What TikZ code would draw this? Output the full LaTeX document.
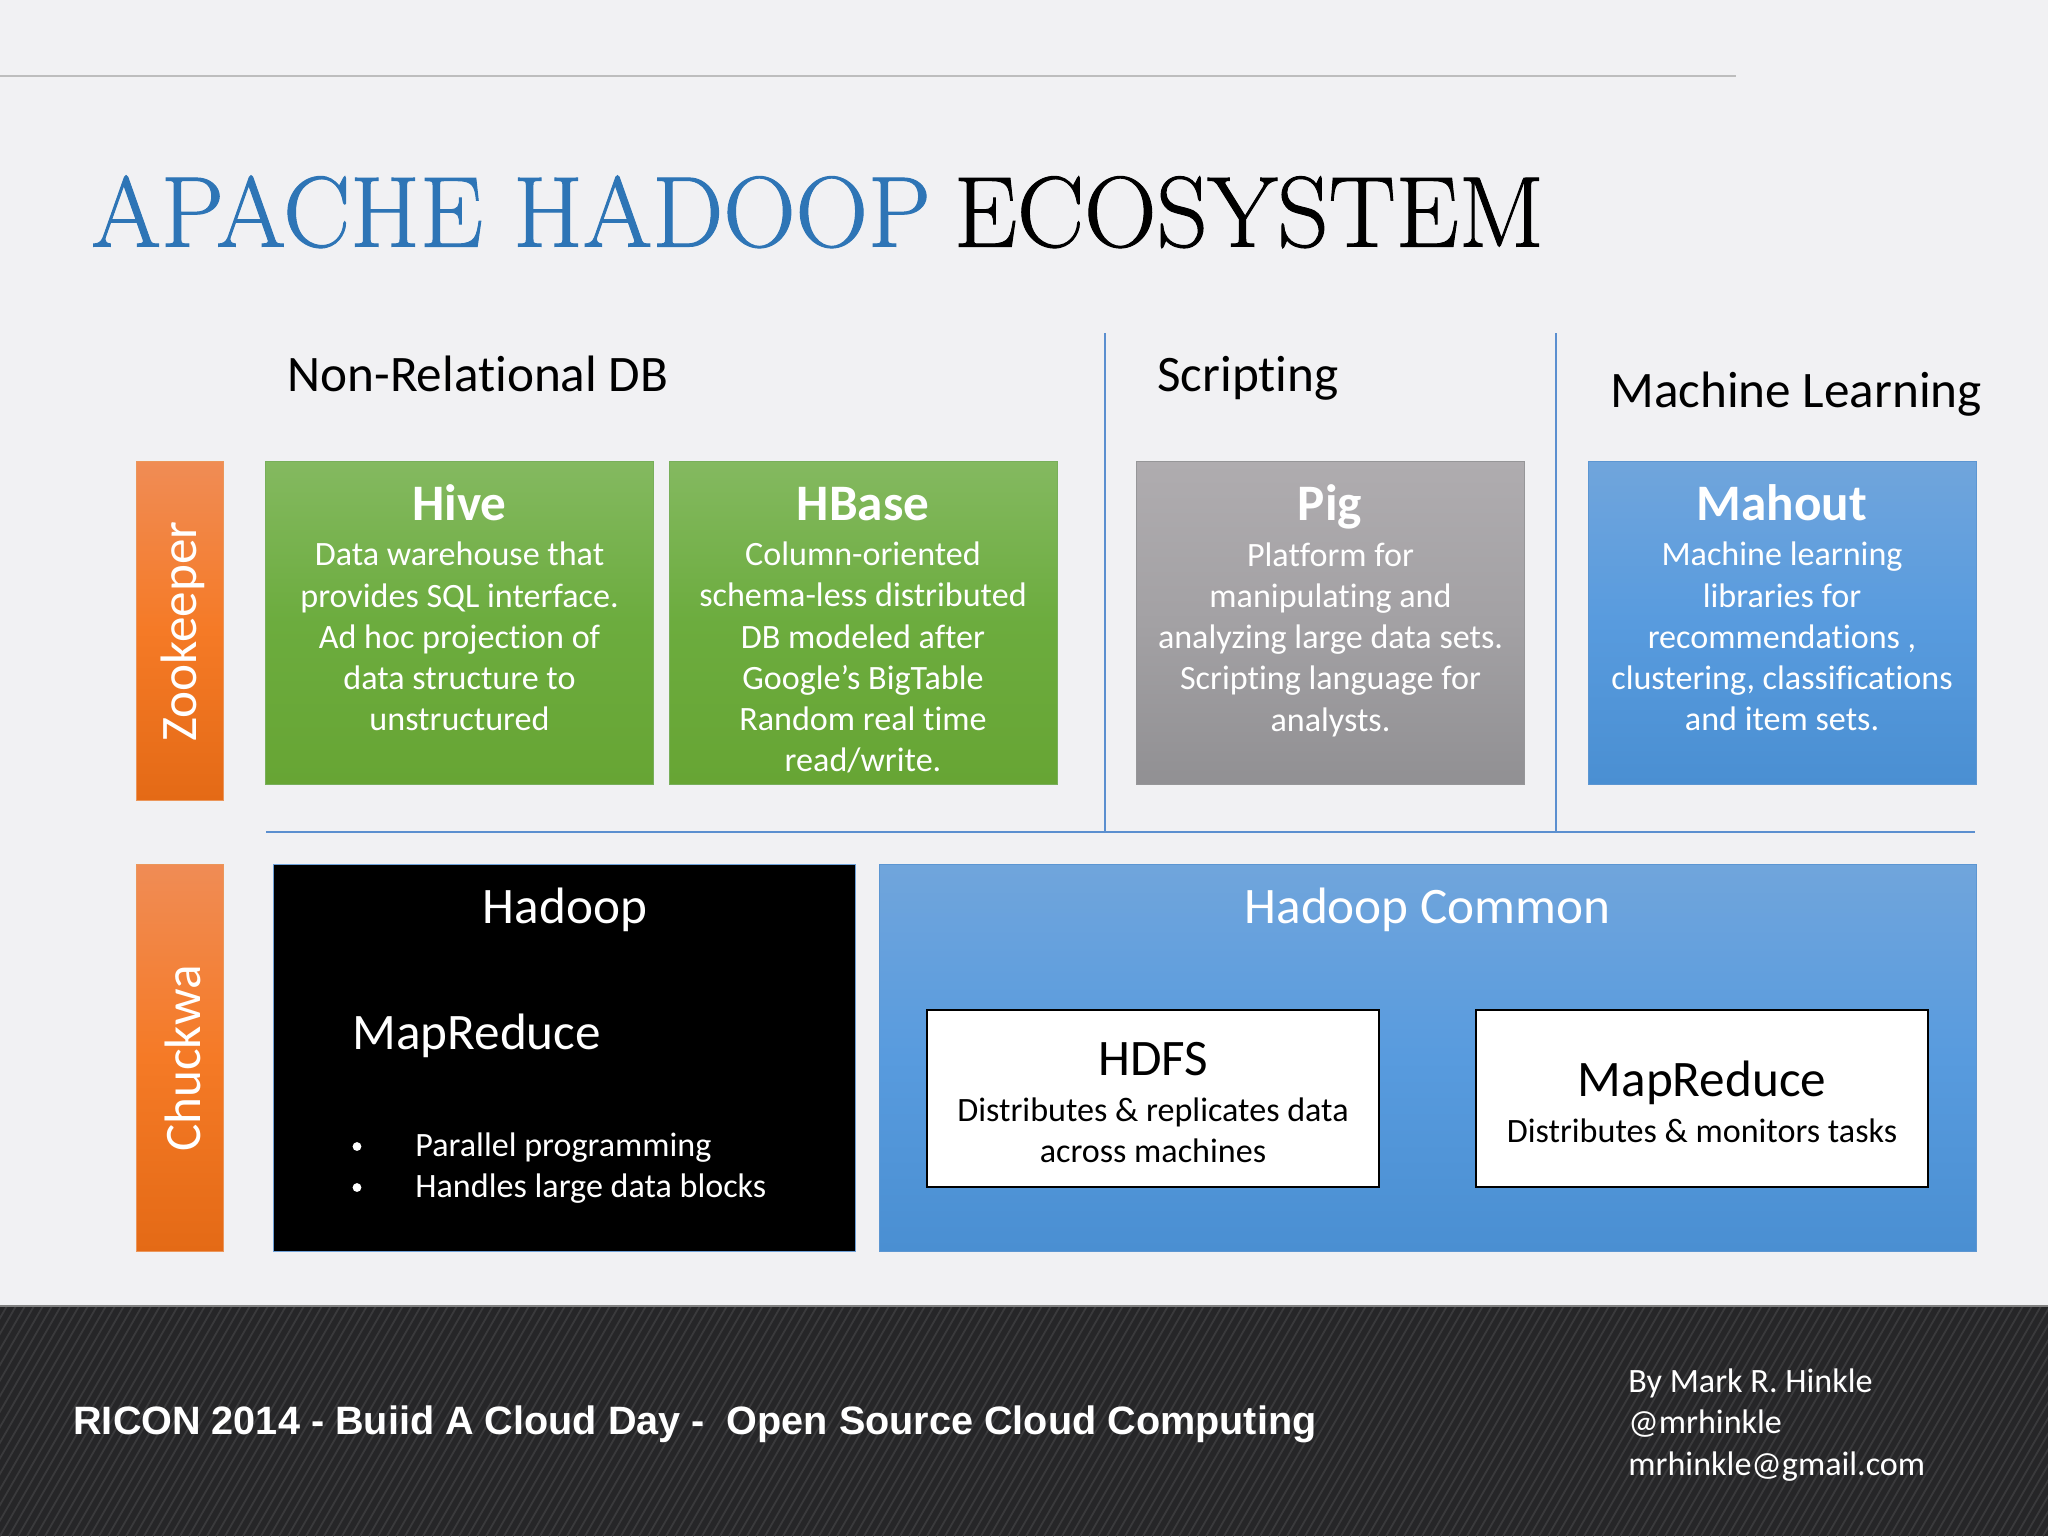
\documentclass[tikz,border=0pt]{standalone}
\usepackage{fontspec}
\setmainfont[Ligatures=NoCommon]{Carlito}
\newfontfamily\titlefont[FakeBold=1]{Latin Modern Roman}
\newfontfamily\footfont{Liberation Sans}
\definecolor{bgc}{HTML}{F1F1F3}
\definecolor{rulegray}{HTML}{BDBDBD}
\definecolor{titleblue}{HTML}{2E75B6}
\definecolor{sepblue}{HTML}{5B8FCF}
\definecolor{footdark}{HTML}{262628}
\definecolor{footline}{HTML}{3A3A3C}
\newcommand{\bodysz}{\fontsize{17.05}{20.6}\selectfont}
\newcommand{\headsz}{\fontsize{25.6}{30}\selectfont}
\tikzset{
  x=0.5pt,y=-0.5pt,
  plain/.style={rectangle,inner sep=0pt,outer sep=0pt,minimum width=#1*0.5pt},
  greenbox/.style={plain=388,minimum height=161.5pt,draw={rgb,255:red,120;green,175;blue,90},line width=.4pt,top color={rgb,255:red,132;green,185;blue,96},bottom color={rgb,255:red,103;green,165;blue,52},middle color={rgb,255:red,108;green,172;blue,62}},
  graybox/.style={plain=388,minimum height=161.5pt,draw={rgb,255:red,150;green,150;blue,152},line width=.4pt,top color={rgb,255:red,175;green,172;blue,175},bottom color={rgb,255:red,145;green,144;blue,147},middle color={rgb,255:red,163;green,161;blue,164}},
  bluebox/.style={plain=#1,draw={rgb,255:red,92;green,150;blue,210},line width=.4pt,top color={rgb,255:red,112;green,165;blue,220},bottom color={rgb,255:red,74;green,143;blue,210},middle color={rgb,255:red,88;green,155;blue,222}},
  orangebox/.style={plain=87,draw={rgb,255:red,235;green,150;blue,90},line width=.4pt,top color={rgb,255:red,240;green,140;blue,85},bottom color={rgb,255:red,228;green,106;blue,22},middle color={rgb,255:red,245;green,122;blue,38}},
  whitebox/.style={plain=452,minimum height=88.5pt,fill=white,draw=black,line width=1.1pt},
  blackbox/.style={plain=582,minimum height=193.5pt,fill=black,draw={rgb,255:red,110;green,160;blue,215},line width=.4pt},
  boxhead/.style={font=\bfseries\headsz,text=white,inner sep=0pt,anchor=base},
  boxbody/.style={font=\bodysz,text=white,align=center,inner sep=0pt},
  sechead/.style={font=\headsz,text=black,inner sep=0pt,anchor=base west},
  midhead/.style={font=\headsz,inner sep=0pt,anchor=base},
  sideText/.style={font=\headsz,text=white,rotate=90,inner sep=0pt},
  sepline/.style={draw=sepblue,line width=1.2pt},
  listitem/.style={font=\bodysz,text=white,inner sep=0pt,anchor=west},
  listdot/.style={circle,fill=white,inner sep=0pt,minimum size=4.4pt},
}
\begin{document}
\begin{tikzpicture}
\useasboundingbox (0,0) rectangle (2048,1536);
\fill[bgc] (0,0) rectangle (2048,1536);
% header rule
\coordinate (ruleA) at (0,76);
\coordinate (ruleB) at (1736,76);
\draw[rulegray,line width=.8pt] (ruleA) -- (ruleB);
% title
\node[anchor=base west,inner sep=0pt,font=\titlefont\fontsize{50.2}{58}\selectfont] (title) at (91,246.5) {\textcolor{titleblue}{APACHE HADOOP}\hspace{-3.6pt} ECOSYSTEM};
% section heads
\node[sechead] (nonrel) at (287,391.5) {Non-Relational DB};
\node[sechead] (script) at (1157,391.5) {Scripting};
\node[sechead] (ml) at (1610,407.5) {Machine Learning};
% separators
\coordinate (v1t) at (1105,333);
\coordinate (v1b) at (1105,832);
\coordinate (v2t) at (1556,333);
\coordinate (v2b) at (1556,832);
\coordinate (hl) at (266,832);
\coordinate (hr) at (1975,832);
\draw[sepline] (v1t) -- (v1b);
\draw[sepline] (v2t) -- (v2b);
\draw[sepline] (hl) -- (hr);
% side bars
\node[orangebox,minimum height=169.5pt] (zoo) at (179.5,630.5) {};
\node[sideText] (zoot) at (183,631.5) {Zookeeper};
\node[orangebox,minimum height=193.5pt] (chuck) at (179.5,1057.5) {};
\node[sideText] (chuckt) at (183,1058.5) {Chuckwa};
% top boxes
\node[greenbox] (hive) at (459,622.5) {};
\node[boxhead] (hiveh) at (459.5,520.5) {Hive};
\node[boxbody] (hiveb) at (459.5,636.5) {Data warehouse that\\provides SQL interface.\\Ad hoc projection of\\data structure to\\unstructured};
\node[greenbox] (hbase) at (863,622.5) {};
\node[boxhead] (hbaseh) at (863,520.5) {HBase};
\node[boxbody] (hbaseb) at (863,657.5) {Column-oriented\\schema-less distributed\\DB modeled after\\Google’s BigTable\\Random real time\\read/write.};
\node[graybox] (pig) at (1330,622.5) {};
\node[boxhead] (pigh) at (1330,520.5) {Pig};
\node[boxbody] (pigb) at (1330.5,639.5) {Platform for\\manipulating and\\analyzing large data sets.\\Scripting language for\\analysts.};
\node[bluebox=388,minimum height=161.5pt] (mahout) at (1782,622.5) {};
\node[boxhead] (mahouth) at (1782,520.5) {Mahout};
\node[boxbody] (mahoutb) at (1782,636.5) {Machine learning\\libraries for\\recommendations ,\\clustering, classifications\\and item sets.};
% Hadoop
\node[blackbox] (hadoop) at (564,1057.5) {};
\node[midhead,text=white] (hadoopt) at (565,923) {Hadoop};
\node[sechead,text=white] (mr) at (352,1049.5) {MapReduce};
\node[listitem] (b1) at (415,1148) {Parallel programming};
\node[listitem] (b2) at (415,1189) {Handles large data blocks};
\node[listdot] (d1) at (357,1146.5) {};
\node[listdot] (d2) at (357,1187.5) {};
% Common
\node[bluebox=1097,minimum height=193.5pt] (common) at (1427.5,1057.5) {};
\node[midhead,text=white] (commont) at (1427.5,923) {Hadoop Common};
\node[whitebox] (hdfs) at (1153,1098.5) {};
\node[midhead] (hdfst) at (1153,1075) {HDFS};
\node[font=\bodysz,align=center,inner sep=0pt] (hdfsb) at (1153,1130.5) {Distributes \& replicates data\\across machines};
\node[whitebox] (mrbox) at (1702,1098.5) {};
\node[midhead] (mrt) at (1702,1096) {MapReduce};
\node[font=\bodysz,inner sep=0pt] (mrb) at (1702,1131) {Distributes \& monitors tasks};
% footer
\fill[footdark] (0,1306) rectangle (2048,1536);
\begin{scope}
\clip (0,1306) rectangle (2048,1536);
\foreach \i in {-144,-135,...,2200} \draw[footline,line width=.9pt] (\i,1536) -- (\i+133,1306);
\end{scope}
\draw[gray,line width=.6pt] (0,1306) -- (2048,1306);
\node[anchor=west,inner sep=0pt,text=white,font=\footfont\bfseries\fontsize{19.8}{24}\selectfont] (foot) at (73,1424) {RICON 2014 - Buiid A Cloud Day -\ \ Open Source Cloud Computing};
\node[anchor=north west,inner sep=0pt,text=white,align=left,font=\bodysz] (by) at (1628,1368.5) {By Mark R. Hinkle\\@mrhinkle\\mrhinkle@gmail.com};
\end{tikzpicture}
\end{document}
